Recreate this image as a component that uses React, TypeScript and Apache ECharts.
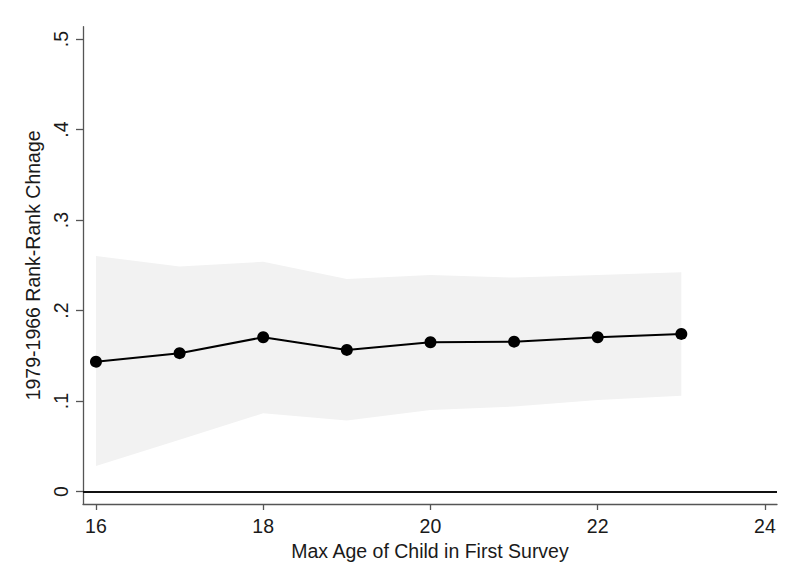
import React, { useEffect, useRef } from "react";
import * as echarts from "echarts";

// Max age of child in first survey
const ages = [16, 17, 18, 19, 20, 21, 22, 23];
// Point estimates of the 1979-1966 rank-rank change
const estimate = [0.1436, 0.153, 0.1706, 0.1566, 0.165, 0.1657, 0.1706, 0.1743];
// 95% confidence band
const ciUpper = [0.2604, 0.2486, 0.254, 0.235, 0.2394, 0.2365, 0.2394, 0.2424];
const ciLower = [0.0284, 0.0575, 0.0866, 0.0785, 0.0903, 0.094, 0.1013, 0.106];

const xTicks = [16, 18, 20, 22, 24];
const yTicks = [0, 0.1, 0.2, 0.3, 0.4, 0.5];

const FONT = "Liberation Sans, Arial, sans-serif";
const FS = 19.5;

export default function App() {
  const ref = useRef<HTMLDivElement>(null);

  useEffect(() => {
    if (!ref.current) return;
    const chart = echarts.init(ref.current, null, { renderer: "svg" });

    const band = {
      type: "custom",
      silent: true,
      z: 1,
      data: [[ages[0], ciUpper[0]]],
      renderItem: (_params: any, api: any) => {
        const top = ages.map((a, i) => api.coord([a, ciUpper[i]]));
        const bottom = ages
          .map((a, i) => api.coord([a, ciLower[i]]))
          .reverse();
        return {
          type: "polygon",
          shape: { points: top.concat(bottom) },
          style: { fill: "#f2f2f2", stroke: "none" },
        };
      },
    };

    chart.setOption({
      animation: false,
      backgroundColor: "#ffffff",
      textStyle: { fontFamily: FONT },
      grid: {
        left: 83,
        right: 9,
        top: 26.7,
        bottom: 76,
        containLabel: false,
        outerBoundsMode: "none",
      },
      xAxis: {
        type: "value",
        min: 15.845,
        max: 24.144,
        name: "Max Age of Child in First Survey",
        nameLocation: "middle",
        nameGap: 34,
        nameTextStyle: { fontSize: FS, color: "#1a1a1a", fontFamily: FONT },
        splitLine: { show: false },
        axisLine: { onZero: false, lineStyle: { color: "#555555", width: 1.3 } },
        axisTick: {
          customValues: xTicks,
          length: 6,
          lineStyle: { color: "#555555", width: 1.3 },
        },
        axisLabel: {
          customValues: xTicks,
          fontSize: FS,
          color: "#1a1a1a",
          margin: 12,
          fontFamily: FONT,
        },
      },
      yAxis: {
        type: "value",
        min: -0.0136,
        max: 0.5136,
        name: "1979-1966 Rank-Rank Chnage",
        nameLocation: "middle",
        nameRotate: 90,
        nameGap: 30,
        nameTextStyle: { fontSize: FS, color: "#1a1a1a", fontFamily: FONT },
        splitLine: { show: false },
        axisLine: { show: true, onZero: false, lineStyle: { color: "#555555", width: 1.3 } },
        axisTick: {
          customValues: yTicks,
          length: 7,
          lineStyle: { color: "#555555", width: 1.3 },
        },
        axisLabel: {
          customValues: yTicks,
          rotate: 90,
          fontSize: FS,
          color: "#1a1a1a",
          margin: 12,
          fontFamily: FONT,
          formatter: (v: number) =>
            v === 0 ? "0" : String(Math.round(v * 10) / 10).replace(/^0\./, "."),
        },
      },
      series: [
        band,
        {
          type: "line",
          z: 3,
          data: ages.map((a, i) => [a, estimate[i]]),
          symbol: "circle",
          symbolSize: 12,
          itemStyle: { color: "#000000" },
          lineStyle: { color: "#000000", width: 2 },
          markLine: {
            silent: true,
            symbol: "none",
            label: { show: false },
            lineStyle: { color: "#111111", width: 1.8, type: "solid" },
            data: [{ yAxis: 0 }],
          },
        },
      ],
    });

    return () => chart.dispose();
  }, []);

  return (
    <div
      ref={ref}
      style={{ position: "absolute", left: 0, top: 0, width: 786, height: 580 }}
    />
  );
}
